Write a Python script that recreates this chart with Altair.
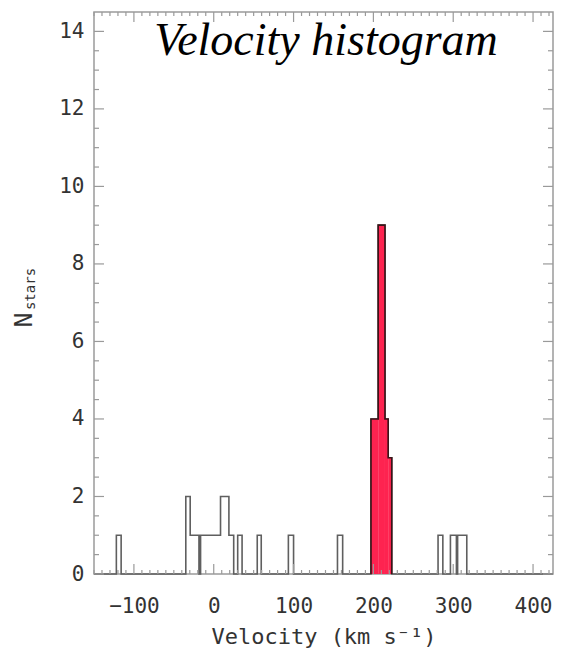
import altair as alt
import pandas as pd

# Histogram of all stars: bin edges (km/s) and counts
all_lo = [-122.0, -35.0, -29.5, -16.5, 8.5, 19.0, 30.0, 54.5, 93.5, 155.0,
          197.0, 206.0, 214.5, 218.5, 281.0, 296.5, 305.5]
all_hi = [-116.0, -29.5, -18.5, 8.5, 19.0, 25.0, 35.5, 59.5, 100.0, 161.5,
          206.0, 214.5, 218.5, 223.0, 287.0, 304.0, 317.0]
all_n = [1, 2, 1, 1, 2, 1, 1, 1, 1, 1, 4, 9, 4, 3, 1, 1, 1]

# Members of the cold peak (filled)
mem_lo = [197.0, 206.0, 214.5, 218.5]
mem_hi = [206.0, 214.5, 218.5, 223.0]
mem_n = [4, 9, 4, 3]

# Axis ranges and tick values
V_MIN, V_MAX = -150, 425
N_MAX = 14.5
x_major = [-100, 0, 100, 200, 300, 400]
x_minor = [v for v in range(-150, 430, 10) if v % 100 != 0]
y_major = [0, 2, 4, 6, 8, 10, 12, 14]
y_minor = [v / 2 for v in range(0, 29) if v % 4 != 0]

W, H = 459, 562
LABEL_FONT = "DejaVu Sans Mono"
FRAME = "#9a9a9a"


def step_points(lows, highs, counts, start=None, stop=None):
    """Corner points of a step outline, zero-filled between bins."""
    pts = []
    cur = lows[0] if start is None else start
    for lo, hi, n in sorted(zip(lows, highs, counts)):
        if lo > cur or not pts:
            pts.append((min(cur, lo), 0))
        pts.append((lo, n))
        cur = hi
    pts.append((cur, 0))
    if stop is not None:
        pts.append((stop, 0))
    df = pd.DataFrame(pts, columns=["v", "n"])
    df["i"] = range(len(df))
    return df


outline = step_points(all_lo, all_hi, all_n, V_MIN, V_MAX)
peak = step_points(mem_lo, mem_hi, mem_n)

xs = alt.Scale(domain=[V_MIN, V_MAX], nice=False, zero=False)
ys = alt.Scale(domain=[0, N_MAX], nice=False, zero=False)

x_axis = alt.Axis(
    values=x_major, ticks=False, domain=False, grid=False,
    labelFont=LABEL_FONT, labelFontSize=21, labelColor="#333",
    labelPadding=21, labelFlush=False,
    title="Velocity (km s⁻¹)", titleFont=LABEL_FONT, titleFontSize=22,
    titleFontWeight="normal", titleColor="#333", titlePadding=10)
y_axis = alt.Axis(
    values=y_major, ticks=False, domain=False, grid=False,
    labelFont=LABEL_FONT, labelFontSize=21, labelColor="#333",
    labelPadding=10, labelFlush=False, title=None)


def X(field):
    return alt.X(field, scale=xs, axis=x_axis)


def Y(field):
    return alt.Y(field, scale=ys, axis=y_axis)


hist = alt.Chart(outline).mark_line(
    interpolate="step-after", color="#5f5f5f", strokeWidth=1.6
).encode(x=X("v:Q"), y=Y("n:Q"), order="i:Q")

peak_fill = alt.Chart(peak).mark_area(
    interpolate="step-after", color="#fe2350", opacity=1
).encode(x=X("v:Q"), y=Y("n:Q"), order="i:Q")

peak_edge = alt.Chart(peak).mark_line(
    interpolate="step-after", color="#3a1418", strokeWidth=1.6
).encode(x=X("v:Q"), y=Y("n:Q"), order="i:Q")


def x_ticks(values, length):
    df = pd.DataFrame({"v": values})
    base = alt.Chart(df).mark_rule(color=FRAME, strokeWidth=1.2)
    bottom = base.encode(x=X("v:Q"), y=alt.value(H), y2=alt.value(H - length))
    top = base.encode(x=X("v:Q"), y=alt.value(0), y2=alt.value(length))
    return [bottom, top]


def y_ticks(values, length):
    df = pd.DataFrame({"v": values})
    base = alt.Chart(df).mark_rule(color=FRAME, strokeWidth=1.2)
    left = base.encode(y=Y("v:Q"), x=alt.value(0), x2=alt.value(length))
    right = base.encode(y=Y("v:Q"), x=alt.value(W), x2=alt.value(W - length))
    return [left, right]


ticks = (x_ticks(x_major, 10) + x_ticks(x_minor, 4)
         + y_ticks(y_major, 10) + y_ticks(y_minor, 5))

label_df = pd.DataFrame({"t": [0]})
title = alt.Chart(label_df).mark_text(
    text="Velocity histogram", font="Liberation Serif", fontStyle="italic",
    fontSize=46, color="black", align="center", baseline="alphabetic"
).encode(x=alt.value(232), y=alt.value(43))

y_title_n = alt.Chart(label_df).mark_text(
    text="N", font=LABEL_FONT, fontSize=25, color="#333", angle=270,
    align="center", baseline="middle"
).encode(x=alt.value(-70), y=alt.value(308))

y_title_sub = alt.Chart(label_df).mark_text(
    text="stars", font=LABEL_FONT, fontSize=14, color="#333", angle=270,
    align="center", baseline="middle"
).encode(x=alt.value(-63), y=alt.value(277))

chart = alt.layer(
    hist, peak_fill, peak_edge, *ticks, title, y_title_n, y_title_sub
).properties(
    width=W, height=H,
    padding={"left": 94, "top": 12, "right": 8, "bottom": 78},
    autosize=alt.AutoSizeParams(type="none"),
).configure_view(stroke=FRAME, strokeWidth=1.5)

chart.save("out.html", embed_options={"renderer": "svg", "actions": False})
